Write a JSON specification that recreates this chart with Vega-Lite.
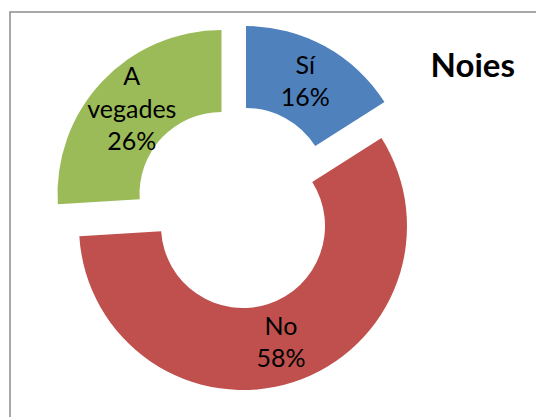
{
  "$schema": "https://vega.github.io/schema/vega-lite/v6.json",
  "width": 528,
  "height": 407,
  "autosize": {"type": "none"},
  "padding": {"left": 10, "top": 12, "right": 0, "bottom": 0},
  "background": "white",
  "view": {"stroke": "#8c8c8c", "strokeWidth": 1.5, "fill": "white"},
  "config": {"font": "Lato"},
  "title": {"text": "Noies", "anchor": "end", "frame": "group", "orient": "top", "font": "Lato", "fontSize": 33, "fontWeight": "bold", "color": "black", "baseline": "alphabetic", "dx": -23, "dy": 102},
  "data": {"values": [
    {"cat": "Sí", "pct": 16, "order": 1, "label": "Sí\n16%"},
    {"cat": "No", "pct": 58, "order": 2, "label": "No\n58%"},
    {"cat": "A vegades", "pct": 26, "order": 3, "label": "A\nvegades\n26%"}
  ]},
  "encoding": {
    "theta": {"field": "pct", "type": "quantitative", "stack": true},
    "order": {"field": "order", "type": "quantitative"},
    "detail": {"field": "cat", "type": "nominal"}
  },
  "layer": [
    {"mark": {"type": "arc", "outerRadius": 164, "innerRadius": 82, "xOffset": -28, "yOffset": -25.5},
     "encoding": {"color": {"field": "cat", "type": "nominal", "scale": {"domain": ["Sí", "No", "A vegades"], "range": ["#4F81BD", "#C0504D", "#9BBB59"]}, "legend": null},
                  "opacity": {"condition": {"test": "datum.cat === 'Sí'", "value": 1}, "value": 0}}},
    {"mark": {"type": "arc", "outerRadius": 164, "innerRadius": 82, "xOffset": -31, "yOffset": 10.5},
     "encoding": {"color": {"field": "cat", "type": "nominal", "scale": {"domain": ["Sí", "No", "A vegades"], "range": ["#4F81BD", "#C0504D", "#9BBB59"]}, "legend": null},
                  "opacity": {"condition": {"test": "datum.cat === 'No'", "value": 1}, "value": 0}}},
    {"mark": {"type": "arc", "outerRadius": 164, "innerRadius": 82, "xOffset": -52.5, "yOffset": -21.5},
     "encoding": {"color": {"field": "cat", "type": "nominal", "scale": {"domain": ["Sí", "No", "A vegades"], "range": ["#4F81BD", "#C0504D", "#9BBB59"]}, "legend": null},
                  "opacity": {"condition": {"test": "datum.cat === 'A vegades'", "value": 1}, "value": 0}}},
    {"mark": {"type": "text", "radius": 123, "xOffset": -28, "yOffset": -25.5, "dy": -16.25, "fontSize": 25, "font": "Lato", "lineBreak": "\n", "lineHeight": 32.5, "fill": "black", "baseline": "middle", "align": "center"},
     "encoding": {"text": {"field": "label", "type": "nominal"},
                  "opacity": {"condition": {"test": "datum.cat === 'Sí'", "value": 1}, "value": 0}}},
    {"mark": {"type": "text", "radius": 123, "xOffset": -31, "yOffset": 10.5, "dy": -16.25, "fontSize": 25, "font": "Lato", "lineBreak": "\n", "lineHeight": 32.5, "fill": "black", "baseline": "middle", "align": "center"},
     "encoding": {"text": {"field": "label", "type": "nominal"},
                  "opacity": {"condition": {"test": "datum.cat === 'No'", "value": 1}, "value": 0}}},
    {"mark": {"type": "text", "radius": 123, "xOffset": -52.5, "yOffset": -21.5, "dy": -32.5, "fontSize": 25, "font": "Lato", "lineBreak": "\n", "lineHeight": 32.5, "fill": "black", "baseline": "middle", "align": "center"},
     "encoding": {"text": {"field": "label", "type": "nominal"},
                  "opacity": {"condition": {"test": "datum.cat === 'A vegades'", "value": 1}, "value": 0}}}
  ]
}
